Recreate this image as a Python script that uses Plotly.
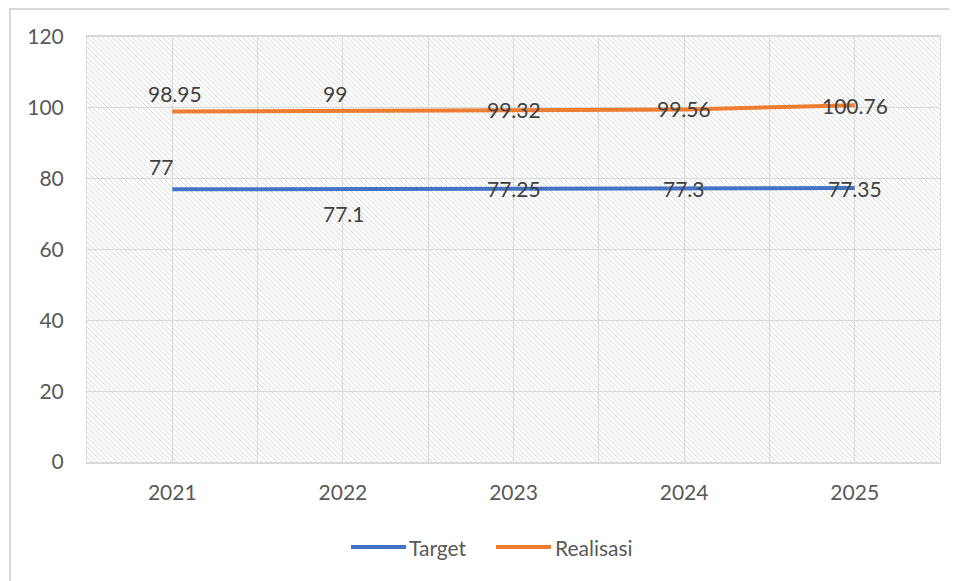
import base64
import plotly.graph_objects as go

# ---- data ----
years = [2021, 2022, 2023, 2024, 2025]
target = [77, 77.1, 77.25, 77.3, 77.35]
realisasi = [98.95, 99, 99.32, 99.56, 100.76]
series_names = ["Target", "Realisasi"]
y_ticks = [0, 20, 40, 60, 80, 100, 120]

# ---- style ----
BLUE = "#4472C4"
ORANGE = "#ED7D31"
GRID = "#d9d9d9"
FONT = "Lato, Calibri, Carlito, Arial, sans-serif"
TICK_COLOR = "#595959"
LABEL_COLOR = "#404040"

# page is offset by the 8px body margin; figure coordinates = page - 8
OFF = 8
L, T = 87 - OFF, 37 - OFF
PW, PH = 853, 425

# label offsets (px) per point  (xshift, yshift)
target_shift = [(-11, 23), (1, -25), (0, 0), (0, 0), (0, 0)]
real_shift = [(3, 18), (-8, 18), (0, 1), (0, 1), (0, 0)]

S = 5
svg = f'''<svg xmlns="http://www.w3.org/2000/svg" width="{PW}" height="{PH}">
<defs><pattern id="p" patternUnits="userSpaceOnUse" width="{S}" height="{S}">
<rect width="{S}" height="{S}" fill="white"/>
<path d="M-1,-1 L{S+1},{S+1} M-1,{S-1} L1,{S+1} M{S-1},-1 L{S+1},1" stroke="#dadada" stroke-width="1"/>
</pattern></defs>
<rect width="{PW}" height="{PH}" fill="url(#p)"/></svg>'''
svg_uri = "data:image/svg+xml;base64," + base64.b64encode(svg.encode()).decode()

fig = go.Figure()
fig.add_trace(go.Scatter(x=years, y=target, mode="lines", name=series_names[0],
                         line=dict(color=BLUE, width=4), showlegend=False))
fig.add_trace(go.Scatter(x=years, y=realisasi, mode="lines", name=series_names[1],
                         line=dict(color=ORANGE, width=4), showlegend=False))

annotations = []
for vals, shifts in ((target, target_shift), (realisasi, real_shift)):
    for x, v, (dx, dy) in zip(years, vals, shifts):
        annotations.append(dict(x=x, y=v, xref="x", yref="y", text=f"{v:g}",
                                showarrow=False, xshift=dx, yshift=dy,
                                font=dict(family=FONT, size=21, color=LABEL_COLOR)))

# helpers: page px -> paper coords
def px_to_paper_x(px):
    return (px - OFF - L) / PW

def px_to_paper_y(py):
    return (T + PH - (py - OFF)) / PH

shapes = []
legend_items = [(series_names[0], BLUE, 351, 406, 407), (series_names[1], ORANGE, 496, 551, 553)]
for name, col, x0, x1, tx in legend_items:
    shapes.append(dict(type="line", xref="paper", yref="paper",
                       x0=px_to_paper_x(x0), x1=px_to_paper_x(x1),
                       y0=px_to_paper_y(547), y1=px_to_paper_y(547),
                       line=dict(color=col, width=4)))
    annotations.append(dict(xref="paper", yref="paper", x=px_to_paper_x(tx), y=px_to_paper_y(547),
                            xanchor="left", yanchor="middle", showarrow=False, text=name,
                            font=dict(family=FONT, size=21, color=TICK_COLOR)))

# outer chart border (top/left visible)
shapes.append(dict(type="rect", xref="paper", yref="paper",
                   x0=px_to_paper_x(10), x1=px_to_paper_x(990),
                   y0=px_to_paper_y(620), y1=px_to_paper_y(9),
                   line=dict(color=GRID, width=2), layer="below"))

fig.update_layout(
    width=957 - OFF, height=581 - OFF,
    margin=dict(l=L, r=957 - OFF - L - PW, t=T, b=581 - OFF - T - PH),
    paper_bgcolor="white",
    plot_bgcolor="rgba(0,0,0,0)",
    showlegend=False,
    font=dict(family=FONT, size=21, color=TICK_COLOR),
    annotations=annotations,
    shapes=shapes,
    images=[dict(source=svg_uri, xref="paper", yref="paper", x=0, y=1,
                 sizex=1, sizey=1, xanchor="left", yanchor="top",
                 sizing="stretch", layer="below")],
    xaxis=dict(range=[years[0] - 0.5, years[-1] + 0.5], tickvals=years,
               ticktext=[str(y) for y in years], showgrid=True, gridcolor=GRID, gridwidth=1,
               minor=dict(dtick=0.5, tick0=years[0] - 0.5, showgrid=True, gridcolor=GRID, gridwidth=1),
               showline=True, linecolor=GRID, linewidth=1.5, mirror=True,
               ticks="", ticklabelstandoff=11, zeroline=False,
               tickfont=dict(family=FONT, size=21, color=TICK_COLOR)),
    yaxis=dict(range=[0, 120], tickvals=y_ticks, showgrid=True, gridcolor=GRID, gridwidth=1,
               showline=True, linecolor=GRID, linewidth=1, mirror=True,
               zeroline=False, ticks="", ticklabelstandoff=18,
               tickfont=dict(family=FONT, size=21, color=TICK_COLOR)),
)

fig.write_html("out.html")
